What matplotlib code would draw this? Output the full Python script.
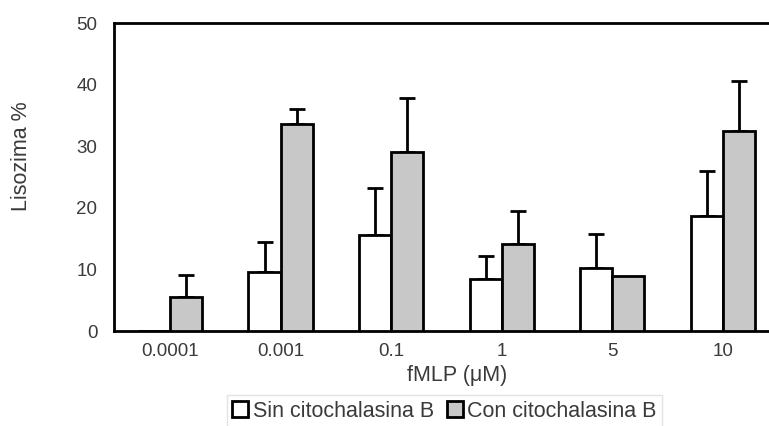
import matplotlib
matplotlib.use('Agg')
import matplotlib.pyplot as plt
from matplotlib.patches import Patch
import numpy as np

plt.rcParams['font.family'] = ['Liberation Sans', 'DejaVu Sans']

# valores
dosis = ['0.0001', '0.001', '0.1', '1', '5', '10']
sin_cito = [0.0, 9.5, 15.6, 8.4, 10.3, 18.7]
sin_err = [0.0, 5.0, 7.6, 3.8, 5.4, 7.3]
con_cito = [5.6, 33.6, 29.1, 14.1, 8.9, 32.5]
con_err = [3.5, 2.4, 8.7, 5.4, 0.0, 8.1]

txt = '#3a3a3a'
gris = '#c8c8c8'

fig = plt.figure(figsize=(7.69, 4.26), dpi=100)
ax = fig.add_axes([114 / 769, 1 - 331 / 426, 686 / 769, 308 / 426])

x = np.arange(len(dosis))
w = 0.29

ax.bar(x - w / 2, sin_cito, w, color='white', edgecolor='black', linewidth=2, zorder=3)
ax.bar(x + w / 2, con_cito, w, color=gris, edgecolor='black', linewidth=2, zorder=3)

# barras de error solo hacia arriba
for xs, vals, errs in [(x - w / 2, sin_cito, sin_err), (x + w / 2, con_cito, con_err)]:
    for xi, v, e in zip(xs, vals, errs):
        if e > 0:
            ax.errorbar(xi, v, yerr=[[0], [e]], fmt='none', ecolor='black',
                        elinewidth=2, capsize=6, capthick=2, zorder=2)

ax.set_xlim(-0.506, -0.506 + 686 / 110.6)
ax.set_ylim(0, 50)
ax.set_yticks([0, 10, 20, 30, 40, 50])
ax.set_xticks(x)
ax.set_xticklabels(dosis)
ax.tick_params(length=0, labelsize=13.5, labelcolor=txt, pad=12)
ax.tick_params(axis='x', pad=9)
for s in ['left', 'bottom', 'top']:
    ax.spines[s].set_linewidth(2)
ax.spines['right'].set_visible(False)

ax.set_xlabel('fMLP (\u03bcM)', fontsize=15.5, color=txt, labelpad=3)
ax.set_ylabel('Lisozima %', fontsize=15.5, color=txt)
ax.yaxis.set_label_coords(-0.119, 0.568)

handles = [Patch(facecolor='white', edgecolor='black', linewidth=2),
           Patch(facecolor=gris, edgecolor='black', linewidth=2)]
leg = fig.legend(handles, ['Sin citochalasina B', 'Con citochalasina B'],
                 loc='center', bbox_to_anchor=(0.578, 0.035), ncol=2,
                 fontsize=15.5, frameon=True, fancybox=False, edgecolor='#dddddd',
                 handlelength=0.75, handleheight=0.75, handletextpad=0.2,
                 columnspacing=0.6, borderpad=0.25, labelcolor=txt)

fig.savefig('out.png', dpi=100)
